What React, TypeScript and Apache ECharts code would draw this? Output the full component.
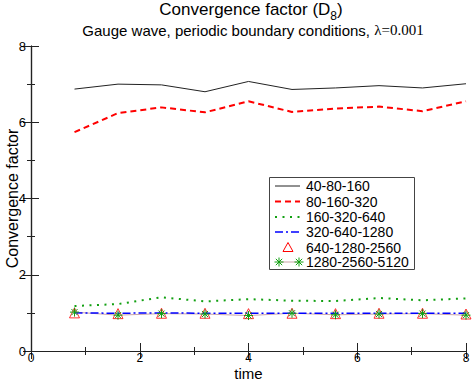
import React, { useEffect, useRef } from "react";
import * as echarts from "echarts";

const times = [0.8, 1.6, 2.4, 3.2, 4.0, 4.8, 5.6, 6.4, 7.2, 8.0];
const res40 = [6.87, 7.0, 6.98, 6.8, 7.07, 6.86, 6.9, 6.96, 6.9, 7.01];
const res80 = [5.74, 6.24, 6.39, 6.26, 6.55, 6.27, 6.36, 6.41, 6.29, 6.55];
const res160 = [1.18, 1.23, 1.41, 1.3, 1.36, 1.32, 1.31, 1.39, 1.33, 1.38];
const res320 = [1.0, 0.99, 1.0, 0.99, 0.99, 0.99, 0.99, 0.99, 0.99, 0.99];
const res640 = [1.0, 0.98, 0.99, 0.99, 0.98, 0.99, 0.98, 0.99, 0.99, 0.97];
const res1280 = [1.02, 0.94, 0.98, 0.97, 0.93, 0.99, 0.95, 0.97, 0.98, 0.94];
const legendNames = [
  "40-80-160",
  "80-160-320",
  "160-320-640",
  "320-640-1280",
  "640-1280-2560",
  "1280-2560-5120",
];
const xTicks = [0, 2, 4, 6, 8];

const FONT = "'Liberation Sans', Arial, Helvetica, sans-serif";
const STAR = "path://M5 0 L5 10 M0 5 L10 5 M1.6 1.6 L8.4 8.4 M8.4 1.6 L1.6 8.4";
const GREEN = "#12a012";

const pairs = (ys: number[]) => times.map((t, i) => [t, ys[i]]);

function starGraphic(cx: number, cy: number, r: number, color: string) {
  const d = r * 0.707;
  const seg = (x1: number, y1: number, x2: number, y2: number) => ({
    type: "line",
    shape: { x1, y1, x2, y2 },
    style: { stroke: color, lineWidth: 1 },
  });
  return {
    type: "group",
    children: [
      seg(cx - r, cy, cx + r, cy),
      seg(cx, cy - r, cx, cy + r),
      seg(cx - d, cy - d, cx + d, cy + d),
      seg(cx - d, cy + d, cx + d, cy - d),
    ],
  };
}

export default function App() {
  const ref = useRef<HTMLDivElement>(null);
  useEffect(() => {
    document.body.style.margin = "0";
    if (!ref.current) return;
    const chart = echarts.init(ref.current, undefined, { renderer: "svg" });

    const axisCommon = {
      type: "value",
      min: 0,
      max: 8,
      interval: 2,
      splitLine: { show: false },
      axisLine: { show: true, lineStyle: { color: "#222", width: 1.2 } },
      axisTick: { show: true, inside: true, length: 8, lineStyle: { color: "#222", width: 1 } },
      minorTick: { show: true, splitNumber: 2, length: 4, lineStyle: { color: "#222", width: 1 } },
    };

    const lx = 269.5, ly = 177.5, lw = 145, lh = 92;
    const rowY = [186, 201.5, 217, 232, 247.5, 262];
    const s0 = 275, s1 = 300, tx = 306;
    const legendChildren: any[] = [
      {
        type: "rect",
        shape: { x: lx, y: ly, width: lw, height: lh },
        style: { fill: "#fff", stroke: "#444", lineWidth: 1 },
      },
      { type: "line", shape: { x1: s0, y1: rowY[0], x2: s1, y2: rowY[0] }, style: { stroke: "#222", lineWidth: 1 } },
      { type: "line", shape: { x1: s0, y1: rowY[1], x2: s1, y2: rowY[1] }, style: { stroke: "#ff0000", lineWidth: 2, lineDash: [6, 4] } },
      { type: "line", shape: { x1: s0, y1: rowY[2], x2: s1, y2: rowY[2] }, style: { stroke: GREEN, lineWidth: 2, lineDash: [2, 5.5] } },
      { type: "line", shape: { x1: s0, y1: rowY[3], x2: s1, y2: rowY[3] }, style: { stroke: "#0000ff", lineWidth: 1.5, lineDash: [8, 3, 2, 3] } },
      {
        type: "polygon",
        shape: { points: [[288, rowY[4] - 5], [293, rowY[4] + 4], [283, rowY[4] + 4]] },
        style: { fill: "none", stroke: "#ff0000", lineWidth: 1 },
      },
      { type: "line", shape: { x1: s0 + 4, y1: rowY[5], x2: s1 - 1, y2: rowY[5] }, style: { stroke: "#c9a3a8", lineWidth: 1 } },
      starGraphic(s0 + 4, rowY[5], 4.5, GREEN),
      starGraphic(s1 - 1, rowY[5], 4.5, GREEN),
      ...legendNames.map((n, i) => ({
        type: "text",
        x: tx,
        y: rowY[i],
        style: { text: n, fontSize: 14, fontFamily: FONT, fill: "#000", verticalAlign: "middle", align: "left" },
      })),
    ];

    chart.setOption({
      animation: false,
      backgroundColor: "#fff",
      grid: { left: 31, right: 6, top: 46, bottom: 31, containLabel: false, outerBoundsMode: "none" },
      xAxis: [
        {
          ...axisCommon,
          position: "bottom",
          name: "time",
          nameLocation: "middle",
          nameGap: 15,
          nameMoveOverlap: false,
          nameTextStyle: { fontSize: 15, lineHeight: 15, fontFamily: FONT, color: "#000" },
          axisLabel: {
            fontSize: 12, lineHeight: 12, fontFamily: FONT, color: "#000", margin: 1,
            formatter: (v: number) => (xTicks.includes(v) ? String(v) : ""),
          },
        },
        { ...axisCommon, position: "top", axisLabel: { show: false } },
      ],
      yAxis: [
        {
          ...axisCommon,
          position: "left",
          name: "Convergence factor",
          nameLocation: "middle",
          nameGap: 11,
          nameMoveOverlap: false,
          nameTextStyle: { fontSize: 16, fontFamily: FONT, color: "#000" },
          axisLabel: { fontSize: 13, fontFamily: FONT, color: "#000", margin: 5 },
        },
        { ...axisCommon, position: "right", axisLabel: { show: false } },
      ],
      graphic: [
        {
          type: "text",
          x: 251,
          y: 1,
          style: {
            text: "{m|Convergence factor (D}{s|8}{m|)}",
            align: "center",
            verticalAlign: "top",
            fill: "#000",
            rich: {
              m: { fontSize: 17, fontFamily: FONT, fill: "#000", lineHeight: 20, verticalAlign: "top" },
              s: { fontSize: 12, fontFamily: FONT, fill: "#000", lineHeight: 20, padding: [9, 0, 0, 0], verticalAlign: "top" },
            },
          },
        },
        {
          type: "text",
          x: 253,
          y: 30,
          style: {
            text: "{a|Gauge wave, periodic boundary conditions, }{b|λ=0.001}",
            align: "center",
            verticalAlign: "middle",
            rich: {
              a: { fontSize: 15, fontFamily: FONT, fill: "#000" },
              b: { fontSize: 15, fontFamily: "'Liberation Serif', 'Times New Roman', serif", fill: "#000" },
            },
          },
        },
        { type: "group", z: 100, children: legendChildren },
      ],
      series: [
        {
          name: legendNames[0], type: "line", data: pairs(res40), showSymbol: false, symbol: "none",
          lineStyle: { color: "#222", width: 1 },
        },
        {
          name: legendNames[1], type: "line", data: pairs(res80), showSymbol: false, symbol: "none",
          lineStyle: { color: "#ff0000", width: 2, type: [6, 4] },
        },
        {
          name: legendNames[2], type: "line", data: pairs(res160), showSymbol: false, symbol: "none",
          lineStyle: { color: GREEN, width: 2, type: [2, 5.5] },
        },
        {
          name: legendNames[5], type: "line", data: pairs(res1280), symbol: STAR, symbolSize: 9, showSymbol: true,
          lineStyle: { color: "#c9a3a8", width: 1 },
          itemStyle: { color: "none", borderColor: GREEN, borderWidth: 1 },
        },
        {
          name: legendNames[3], type: "line", data: pairs(res320), showSymbol: false, symbol: "none",
          lineStyle: { color: "#0000ff", width: 1.5, type: [8, 3, 2, 3] },
        },
        {
          name: legendNames[4], type: "scatter", data: pairs(res640), symbol: "triangle", symbolSize: 10,
          itemStyle: { color: "none", borderColor: "#ff0000", borderWidth: 1 },
        },
      ],
    });
    return () => chart.dispose();
  }, []);
  return <div ref={ref} style={{ width: 472, height: 382 }} />;
}
